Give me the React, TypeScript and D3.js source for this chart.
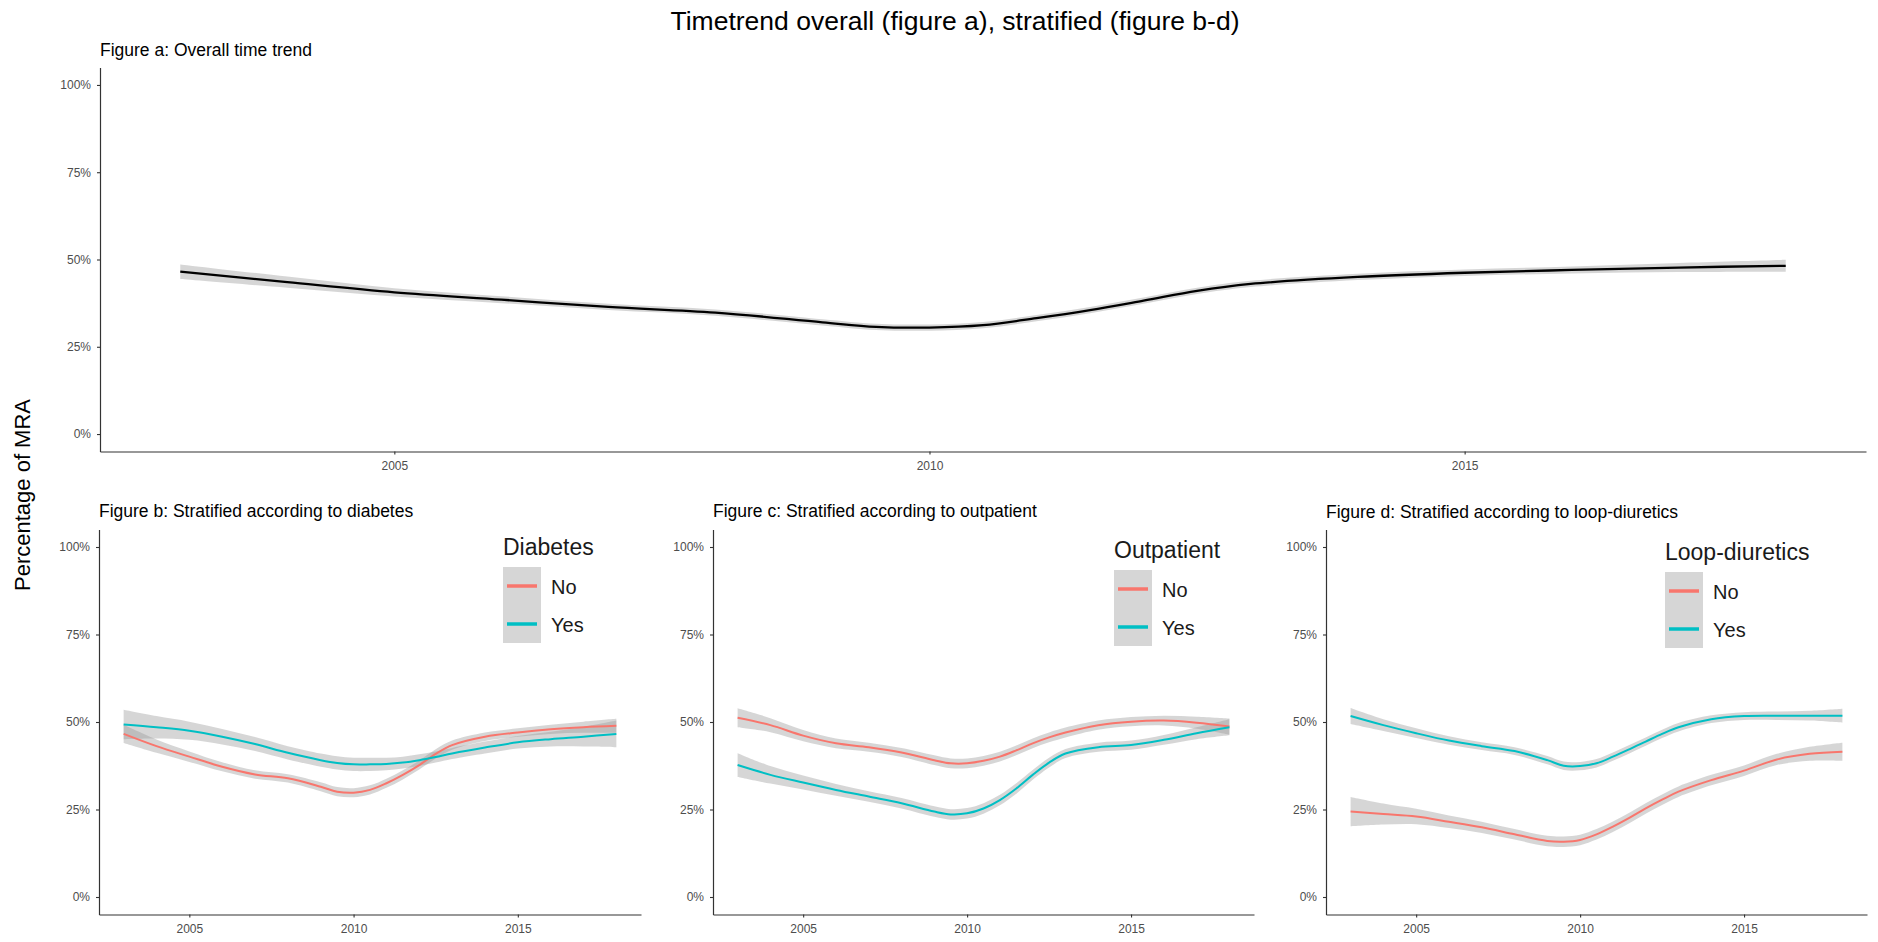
import * as d3 from "d3";
import React, { useEffect, useRef } from "react";

// time points of the smoothed curves (denser around the 2010 dip)
const years = [2003, 2004, 2005, 2006, 2007, 2008, 2009, 2009.5, 2010, 2010.5, 2011, 2011.5, 2012, 2012.5, 2013, 2014, 2015, 2016, 2017, 2018];

// percentage of MRA, fitted value and half width of the grey band
const overallFit = [46.5, 43.5, 40.6, 38.5, 36.4, 34.8, 32.0, 30.7, 30.5, 31.2, 33.2, 35.5, 38.2, 41.0, 43.0, 45.0, 46.2, 47.0, 47.7, 48.2];
const overallBand = [2.1, 1.6, 1.2, 1.0, 0.9, 0.9, 0.9, 0.9, 0.9, 0.9, 0.9, 0.9, 0.9, 0.9, 0.9, 0.9, 0.9, 1.0, 1.3, 1.7];

const diabetesNo = [46.6, 43.1, 40.1, 37.2, 35.0, 33.9, 31.5, 30.1, 29.8, 30.6, 32.5, 34.9, 37.7, 40.9, 43.4, 45.8, 47.0, 47.9, 48.5, 48.9];
const diabetesNoBand = [2.6, 1.9, 1.5, 1.3, 1.2, 1.2, 1.3, 1.3, 1.3, 1.3, 1.3, 1.3, 1.3, 1.3, 1.3, 1.2, 1.2, 1.3, 1.6, 2.0];
const diabetesYes = [49.3, 48.5, 47.5, 45.8, 43.7, 41.2, 39.1, 38.3, 37.9, 37.9, 38.0, 38.4, 39.1, 40.0, 41.0, 42.7, 44.2, 45.1, 45.8, 46.6];
const diabetesYesBand = [4.2, 3.2, 2.6, 2.2, 2.0, 1.9, 1.9, 1.9, 1.9, 1.9, 1.8, 1.7, 1.7, 1.6, 1.6, 1.7, 1.8, 2.1, 2.8, 3.8];

const outpatientNo = [51.2, 49.1, 46.1, 43.9, 42.8, 41.3, 39.1, 38.2, 38.2, 38.9, 40.1, 41.9, 43.9, 45.6, 47.0, 49.1, 50.1, 50.4, 49.8, 48.7];
const outpatientNoBand = [2.7, 2.0, 1.6, 1.4, 1.3, 1.3, 1.4, 1.4, 1.4, 1.4, 1.4, 1.4, 1.4, 1.4, 1.4, 1.3, 1.3, 1.4, 1.7, 2.3];
const outpatientYes = [37.7, 34.9, 32.7, 30.6, 28.7, 26.8, 24.4, 23.6, 23.9, 25.3, 27.7, 31.0, 34.9, 38.4, 41.0, 42.8, 43.4, 44.9, 46.8, 48.5];
const outpatientYesBand = [3.4, 2.5, 2.0, 1.7, 1.5, 1.5, 1.5, 1.5, 1.5, 1.5, 1.5, 1.5, 1.4, 1.4, 1.3, 1.3, 1.3, 1.4, 1.7, 2.3];

const loopNo = [24.4, 23.7, 23.0, 21.5, 19.9, 17.9, 16.0, 15.8, 16.3, 17.9, 20.1, 22.6, 25.3, 27.8, 30.1, 33.4, 36.1, 39.3, 40.9, 41.5];
const loopNoBand = [4.2, 3.0, 2.2, 1.8, 1.6, 1.5, 1.5, 1.5, 1.5, 1.5, 1.5, 1.5, 1.5, 1.5, 1.5, 1.5, 1.5, 1.6, 2.0, 2.6];
const loopYes = [51.7, 49.1, 46.8, 44.7, 43.1, 41.7, 39.1, 37.5, 37.4, 38.2, 40.1, 42.2, 44.4, 46.6, 48.5, 50.8, 51.7, 51.8, 51.8, 51.8];
const loopYesBand = [2.3, 1.7, 1.4, 1.2, 1.1, 1.1, 1.2, 1.2, 1.2, 1.2, 1.2, 1.2, 1.2, 1.2, 1.2, 1.1, 1.1, 1.2, 1.4, 2.0];

const xTicks = [2005, 2010, 2015];
const yTicks = [0, 0.25, 0.5, 0.75, 1];
const groupLabels = ["No", "Yes"];
const groupColors = ["#F8766D", "#00BFC4"];

const FONT = "'Liberation Sans', Arial, sans-serif";

type Series = { fit: number[]; band: number[]; color: string };
type Panel = {
    title: string;
    left: number;
    right: number;
    top: number;
    bottom: number;
    titleY: number;
    series: Series[];
    legend: { title: string; x: number; y: number } | null;
};

const panels: Panel[] = [
    {
        title: "Figure a: Overall time trend",
        left: 100, right: 1866, top: 67.5, bottom: 451.5, titleY: 56,
        series: [{ fit: overallFit, band: overallBand, color: "#000000" }],
        legend: null,
    },
    {
        title: "Figure b: Stratified according to diabetes",
        left: 99, right: 641, top: 529.5, bottom: 914.5, titleY: 517,
        series: [
            { fit: diabetesNo, band: diabetesNoBand, color: groupColors[0] },
            { fit: diabetesYes, band: diabetesYesBand, color: groupColors[1] },
        ],
        legend: { title: "Diabetes", x: 503, y: 555 },
    },
    {
        title: "Figure c: Stratified according to outpatient",
        left: 713, right: 1254, top: 529.5, bottom: 914.5, titleY: 517,
        series: [
            { fit: outpatientNo, band: outpatientNoBand, color: groupColors[0] },
            { fit: outpatientYes, band: outpatientYesBand, color: groupColors[1] },
        ],
        legend: { title: "Outpatient", x: 1114, y: 558 },
    },
    {
        title: "Figure d: Stratified according to loop-diuretics",
        left: 1326, right: 1867, top: 529.5, bottom: 914.5, titleY: 518,
        series: [
            { fit: loopNo, band: loopNoBand, color: groupColors[0] },
            { fit: loopYes, band: loopYesBand, color: groupColors[1] },
        ],
        legend: { title: "Loop-diuretics", x: 1665, y: 560 },
    },
];

function drawPanel(svg: any, p: Panel) {
    const x = d3.scaleLinear().domain([2002.25, 2018.75]).range([p.left, p.right]);
    const y = d3.scaleLinear().domain([-0.05, 1.05]).range([p.bottom, p.top]);
    const curve = d3.curveCatmullRom.alpha(0.5);
    const g = svg.append("g");

    // grey confidence bands
    p.series.forEach((s) => {
        const area = d3
            .area<number>()
            .x((d, i) => x(years[i]))
            .y0((d, i) => y((d - s.band[i]) / 100))
            .y1((d, i) => y((d + s.band[i]) / 100))
            .curve(curve);
        g.append("path").datum(s.fit).attr("d", area).attr("fill", "#999999").attr("fill-opacity", 0.4);
    });

    // smoothed lines
    p.series.forEach((s) => {
        const line = d3
            .line<number>()
            .x((d, i) => x(years[i]))
            .y((d) => y(d / 100))
            .curve(curve);
        g.append("path")
            .datum(s.fit)
            .attr("d", line)
            .attr("fill", "none")
            .attr("stroke", s.color)
            .attr("stroke-width", p.legend ? 2 : 2.3);
    });

    // axes
    const xAxis = g
        .append("g")
        .attr("transform", `translate(0,${p.bottom})`)
        .call(d3.axisBottom(x).tickValues(xTicks).tickFormat(d3.format("d")).tickSize(3).tickSizeOuter(0).tickPadding(6.5));
    const yAxis = g
        .append("g")
        .attr("transform", `translate(${p.left},0)`)
        .call(d3.axisLeft(y).tickValues(yTicks).tickFormat(d3.format(".0%")).tickSize(3).tickSizeOuter(0).tickPadding(6));
    [xAxis, yAxis].forEach((a) => {
        a.select(".domain").attr("stroke", "#333333").attr("stroke-width", 1.2);
        a.selectAll(".tick line").attr("stroke", "#333333").attr("stroke-width", 1.1);
        a.selectAll(".tick text").attr("fill", "#4D4D4D").style("font-size", "12px").style("font-family", FONT);
    });

    // panel title
    g.append("text")
        .text(p.title)
        .attr("x", p.left)
        .attr("y", p.titleY)
        .attr("fill", "#000")
        .style("font-size", "17.5px")
        .style("font-family", FONT);

    // legend
    if (p.legend) {
        const lg = g.append("g");
        lg.append("text")
            .text(p.legend.title)
            .attr("x", p.legend.x)
            .attr("y", p.legend.y)
            .attr("fill", "#1A1A1A")
            .style("font-size", "23px")
            .style("font-family", FONT);
        groupLabels.forEach((label, i) => {
            const top = p.legend!.y + 12 + i * 38;
            lg.append("rect")
                .attr("x", p.legend!.x)
                .attr("y", top)
                .attr("width", 38)
                .attr("height", 38)
                .attr("fill", "#D6D6D6");
            lg.append("line")
                .attr("x1", p.legend!.x + 4)
                .attr("x2", p.legend!.x + 34)
                .attr("y1", top + 19)
                .attr("y2", top + 19)
                .attr("stroke", groupColors[i])
                .attr("stroke-width", 3.5);
            lg.append("text")
                .text(label)
                .attr("x", p.legend!.x + 48)
                .attr("y", top + 19)
                .attr("dy", "0.38em")
                .attr("fill", "#1A1A1A")
                .style("font-size", "20px")
                .style("font-family", FONT);
        });
    }
}

export default function App() {
    const ref = useRef<SVGSVGElement | null>(null);

    useEffect(() => {
        const svg = d3.select(ref.current);
        svg.selectAll("*").remove();

        svg.append("rect").attr("width", 1878).attr("height", 942).attr("fill", "#ffffff");

        svg.append("text")
            .text("Timetrend overall (figure a), stratified (figure b-d)")
            .attr("x", 955)
            .attr("y", 30)
            .attr("text-anchor", "middle")
            .attr("fill", "#000")
            .style("font-size", "26.5px")
            .style("font-family", FONT);

        svg.append("text")
            .text("Percentage of MRA")
            .attr("transform", "translate(30,495) rotate(-90)")
            .attr("text-anchor", "middle")
            .attr("fill", "#000")
            .style("font-size", "22px")
            .style("font-family", FONT);

        panels.forEach((p) => drawPanel(svg, p));
    }, []);

    return (
        <svg
            ref={ref}
            width={1878}
            height={942}
            style={{ position: "absolute", left: 0, top: 0, display: "block" }}
        />
    );
}
